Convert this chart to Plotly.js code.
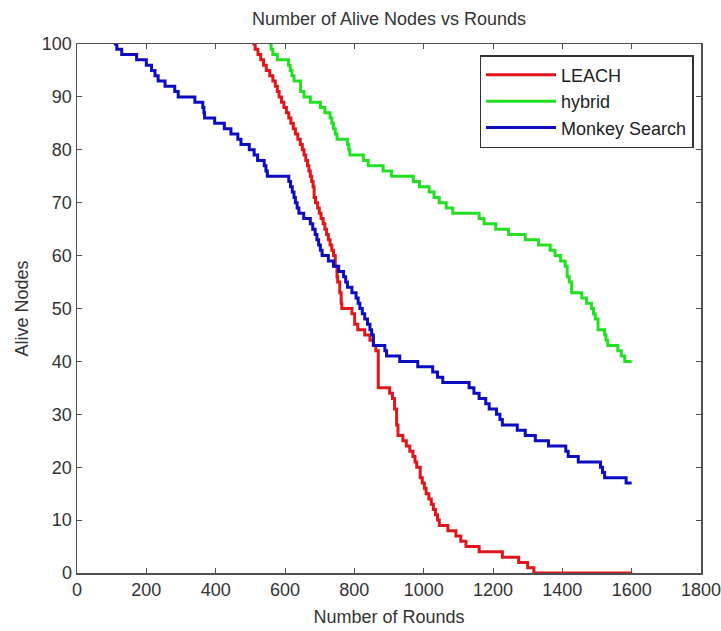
<!DOCTYPE html>
<html>
<head>
<meta charset="utf-8">
<script src="https://cdn.plot.ly/plotly-3.0.1.min.js"></script>
<style>html,body{margin:0;padding:0;background:#fff;}#chart{width:721px;height:631px;}</style>
</head>
<body>
<div id="chart"></div>
<script>
// LEACH
const leachRounds = [506, 514, 522, 530, 538, 546, 556, 565, 572, 578, 583, 590, 597, 604, 611, 617, 624, 630, 637, 644, 650, 655, 660, 665, 669, 673, 677, 681, 684, 688, 694, 699, 704, 710, 715, 720, 725, 730, 735, 740, 745, 750, 752, 758, 762, 764, 793, 801, 810, 830, 845, 855, 862, 869, 902, 910, 916, 922, 926, 940, 950, 960, 969, 975, 980, 990, 996, 1002, 1007, 1015, 1022, 1028, 1034, 1040, 1045, 1070, 1093, 1107, 1122, 1160, 1227, 1274, 1300, 1318, 1600];
const leachAlive  = [100, 99, 98, 97, 96, 95, 94, 93, 92, 91, 90, 89, 88, 87, 86, 85, 84, 83, 82, 81, 80, 79, 78, 77, 76, 75, 74, 73, 71, 70, 69, 68, 67, 66, 65, 64, 63, 62, 61, 60, 58, 56, 55, 53, 51, 50, 49, 47, 46, 45, 44, 43, 42, 35, 34, 33, 31, 28, 26, 25, 24, 23, 22, 21, 20, 18, 17, 16, 15, 14, 13, 12, 11, 10, 9, 8, 7, 6, 5, 4, 3, 2, 1, 0, 0];

// hybrid
const hybridRounds = [554, 560, 565, 578, 610, 615, 620, 626, 645, 655, 673, 702, 715, 730, 735, 740, 745, 750, 780, 784, 787, 826, 840, 855, 883, 907, 970, 988, 1016, 1030, 1045, 1065, 1084, 1160, 1174, 1208, 1245, 1293, 1331, 1365, 1379, 1395, 1408, 1414, 1420, 1427, 1456, 1470, 1484, 1490, 1495, 1503, 1522, 1526, 1531, 1560, 1570, 1580, 1600];
const hybridAlive  = [100, 99, 98, 97, 96, 95, 94, 93, 91, 90, 89, 88, 87, 86, 85, 84, 83, 82, 81, 80, 79, 78, 77, 77, 76, 75, 74, 73, 72, 71, 70, 69, 68, 67, 66, 65, 64, 63, 62, 61, 60, 59, 58, 56, 55, 53, 52, 51, 50, 49, 48, 46, 45, 44, 43, 42, 41, 40, 40];

// Monkey Search
const monkeyRounds = [106, 115, 129, 172, 200, 215, 225, 234, 254, 282, 292, 340, 363, 366, 368, 397, 425, 444, 464, 473, 497, 511, 521, 540, 545, 549, 611, 616, 621, 626, 630, 635, 640, 654, 673, 680, 687, 692, 697, 702, 707, 725, 740, 755, 769, 775, 780, 793, 805, 811, 816, 823, 830, 838, 845, 850, 855, 888, 893, 931, 983, 1026, 1040, 1055, 1131, 1145, 1160, 1179, 1189, 1210, 1220, 1227, 1270, 1293, 1322, 1360, 1410, 1417, 1446, 1510, 1516, 1522, 1584, 1600];
const monkeyAlive  = [100, 99, 98, 97, 96, 95, 94, 93, 92, 91, 90, 89, 88, 87, 86, 85, 84, 83, 82, 81, 80, 79, 78, 77, 76, 75, 74, 73, 72, 71, 70, 69, 68, 67, 66, 65, 64, 63, 62, 61, 60, 59, 58, 57, 56, 55, 54, 53, 52, 51, 50, 49, 48, 47, 46, 45, 43, 42, 41, 40, 39, 38, 37, 36, 35, 34, 33, 32, 31, 30, 29, 28, 27, 26, 25, 24, 23, 22, 21, 20, 19, 18, 17, 17];

const seriesNames = ['LEACH', 'hybrid', 'Monkey Search'];
const xTicks = [0, 200, 400, 600, 800, 1000, 1200, 1400, 1600, 1800];
const yTicks = [0, 10, 20, 30, 40, 50, 60, 70, 80, 90, 100];

const FONT = 'Liberation Sans, Arial, sans-serif';
const traces = [
  {x: leachRounds, y: leachAlive, name: seriesNames[0], color: '#e0161b'},
  {x: hybridRounds, y: hybridAlive, name: seriesNames[1], color: '#22e022'},
  {x: monkeyRounds, y: monkeyAlive, name: seriesNames[2], color: '#0c0cc0'}
].map(s => ({
  type: 'scatter', mode: 'lines', x: s.x, y: s.y, name: s.name,
  line: {color: s.color, width: 3, shape: 'hv'}
}));

const axisCommon = {
  showline: true, linecolor: '#505050', linewidth: 1.5, mirror: 'ticks',
  ticks: 'inside', ticklen: 5, tickcolor: '#505050', tickwidth: 1,
  showgrid: false, zeroline: false, layer: 'below traces',
  ticklabeloverflow: 'allow',
  tickfont: {family: FONT, size: 18, color: '#333'}
};

const layout = {
  width: 721, height: 631,
  margin: {l: 77, r: 20, t: 44, b: 58, pad: 0},
  paper_bgcolor: '#fff', plot_bgcolor: '#fff',
  font: {family: FONT, color: '#333'},
  title: {text: 'Number of Alive Nodes vs Rounds', font: {family: FONT, size: 18, color: '#333'},
          x: 0.5, xref: 'paper', y: 0.97, yref: 'container', yanchor: 'middle'},
  xaxis: Object.assign({}, axisCommon, {
    range: [0, 1800], tickvals: xTicks, ticktext: xTicks.map(String),
    title: {text: 'Number of Rounds', font: {family: FONT, size: 18, color: '#333'}, standoff: 11}
  }),
  yaxis: Object.assign({}, axisCommon, {
    range: [0, 100], tickvals: yTicks, ticktext: yTicks.map(String),
    title: {text: 'Alive Nodes', font: {family: FONT, size: 18, color: '#333'}, standoff: 8}
  }),
  showlegend: true,
  legend: {x: 0.988, y: 0.979, xanchor: 'right', yanchor: 'top', itemwidth: 70,
           bgcolor: '#fff', bordercolor: '#333', borderwidth: 1.5,
           font: {family: FONT, size: 18, color: '#222'}}
};

Plotly.newPlot('chart', traces, layout, {displayModeBar: false, staticPlot: true});
</script>
</body>
</html>
